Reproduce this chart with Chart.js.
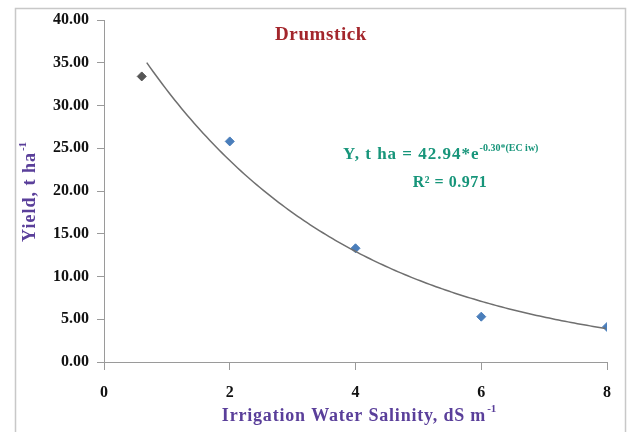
<!DOCTYPE html>
<html>
<head>
<meta charset="utf-8">
<script src="https://cdn.jsdelivr.net/npm/chart.js@4"></script>
<style>
  html, body { margin: 0; padding: 0; background: #fff; }
  #wrap { width: 632px; height: 432px; }
</style>
</head>
<body>
<div id="wrap"><canvas id="c" width="632" height="432"></canvas></div>
<script>
// Measured yield of drumstick at each irrigation-water salinity level
const salinity = [0.6, 2, 4, 6, 8];          // dS m-1
const yieldT   = [33.4, 25.8, 13.3, 5.3, 4.1]; // t ha-1
const pointColors = ['#555555', '#4a7ebb', '#4a7ebb', '#4a7ebb', '#4a7ebb'];

// Fitted exponential trend: Y = a * e^(b * EC)
const fitA = 42.94;
const fitB = -0.30;
const fitR2 = '0.971';
const trendFrom = 0.68, trendTo = 8;

const xTicks = [0, 2, 4, 6, 8];
const yMax = 40, yStep = 5;

const scatterPts = salinity.map((x, i) => ({ x: x, y: yieldT[i] }));
const trendPts = [];
for (let x = trendFrom; x <= trendTo + 1e-9; x += 0.05) {
  trendPts.push({ x: x, y: fitA * Math.exp(fitB * x) });
}

const serif = '"Liberation Serif", "Times New Roman", serif';

function spaced(ctx, px) {
  if ('letterSpacing' in ctx) ctx.letterSpacing = px + 'px';
}

const decor = {
  id: 'decor',
  beforeDraw(chart) {
    const ctx = chart.ctx;
    ctx.save();
    ctx.fillStyle = '#fff';
    ctx.fillRect(0, 0, chart.width, chart.height);
    ctx.strokeStyle = '#c8c8c8';
    ctx.lineWidth = 1.5;
    ctx.strokeRect(15.5, 8.5, 610, 440);
    ctx.restore();
  },
  afterDraw(chart) {
    const ctx = chart.ctx;
    ctx.save();
    ctx.textBaseline = 'middle';

    // chart title
    ctx.fillStyle = '#a3262c';
    ctx.font = 'bold 19px ' + serif;
    spaced(ctx, 0.6);
    ctx.textAlign = 'center';
    ctx.fillText('Drumstick', 321, 35);

    // x axis title
    ctx.fillStyle = '#5a3f9a';
    ctx.font = 'bold 18px ' + serif;
    spaced(ctx, 0.8);
    const xt = 'Irrigation Water Salinity, dS m';
    let w = ctx.measureText(xt).width;
    const xLeft = 354 - w / 2;
    ctx.textAlign = 'left';
    ctx.fillText(xt, xLeft, 416);
    ctx.font = 'bold 11px ' + serif;
    spaced(ctx, 0);
    ctx.fillText('-1', xLeft + w + 1, 409);

    // y axis title
    ctx.save();
    ctx.translate(30, 192);
    ctx.rotate(-Math.PI / 2);
    ctx.font = 'bold 18px ' + serif;
    spaced(ctx, 1);
    const yt = 'Yield, t ha';
    w = ctx.measureText(yt).width;
    const yLeft = -(w + 10) / 2;
    ctx.textAlign = 'left';
    ctx.fillText(yt, yLeft, 0);
    ctx.font = 'bold 11px ' + serif;
    spaced(ctx, 0);
    ctx.fillText('-1', yLeft + w + 1, -7);
    ctx.restore();

    // trend equation
    ctx.fillStyle = '#17957a';
    ctx.font = 'bold 17px ' + serif;
    spaced(ctx, 1);
    ctx.textAlign = 'left';
    const eq = 'Y, t ha = ' + fitA.toFixed(2) + '*e';
    const eqX = 343;
    ctx.fillText(eq, eqX, 155);
    const ew = ctx.measureText(eq).width;
    ctx.font = 'bold 10px ' + serif;
    spaced(ctx, 0);
    ctx.fillText(fitB.toFixed(2) + '*(EC iw)', eqX + ew, 148);
    ctx.font = 'bold 16px ' + serif;
    spaced(ctx, 0.5);
    ctx.textAlign = 'center';
    ctx.fillText('R\u00B2 = ' + fitR2, 450, 183);
    ctx.restore();
  }
};

new Chart(document.getElementById('c'), {
  type: 'scatter',
  data: {
    datasets: [
      {
        type: 'line',
        data: trendPts,
        borderColor: '#6f6f6f',
        borderWidth: 1.5,
        pointRadius: 0,
        fill: false,
        tension: 0
      },
      {
        data: scatterPts,
        pointStyle: 'rectRot',
        pointRadius: 4.5,
        pointBackgroundColor: pointColors,
        pointBorderColor: pointColors,
        pointBorderWidth: 1
      }
    ]
  },
  plugins: [decor],
  options: {
    responsive: false,
    animation: false,
    events: [],
    layout: { padding: { left: 0, top: 20, right: 25, bottom: 0 } },
    plugins: { legend: { display: false }, tooltip: { enabled: false } },
    scales: {
      x: {
        type: 'linear',
        min: 0, max: 8,
        afterFit(s) { s.height = 70; },
        afterBuildTicks(s) { s.ticks = xTicks.map(v => ({ value: v })); },
        ticks: {
          color: '#111',
          font: { family: serif, size: 16, weight: 'bold' },
          padding: 13
        },
        grid: { drawOnChartArea: false, drawTicks: true, tickLength: 8, color: '#9a9a9a' },
        border: { display: true, color: '#9a9a9a', width: 1 }
      },
      y: {
        min: 0, max: yMax,
        afterFit(s) { s.width = 104; },
        ticks: {
          stepSize: yStep,
          color: '#111',
          font: { family: serif, size: 16, weight: 'bold' },
          padding: 8,
          callback: v => Number(v).toFixed(2)
        },
        grid: { drawOnChartArea: false, drawTicks: true, tickLength: 7, color: '#9a9a9a' },
        border: { display: true, color: '#9a9a9a', width: 1 }
      }
    }
  }
});
</script>
</body>
</html>
